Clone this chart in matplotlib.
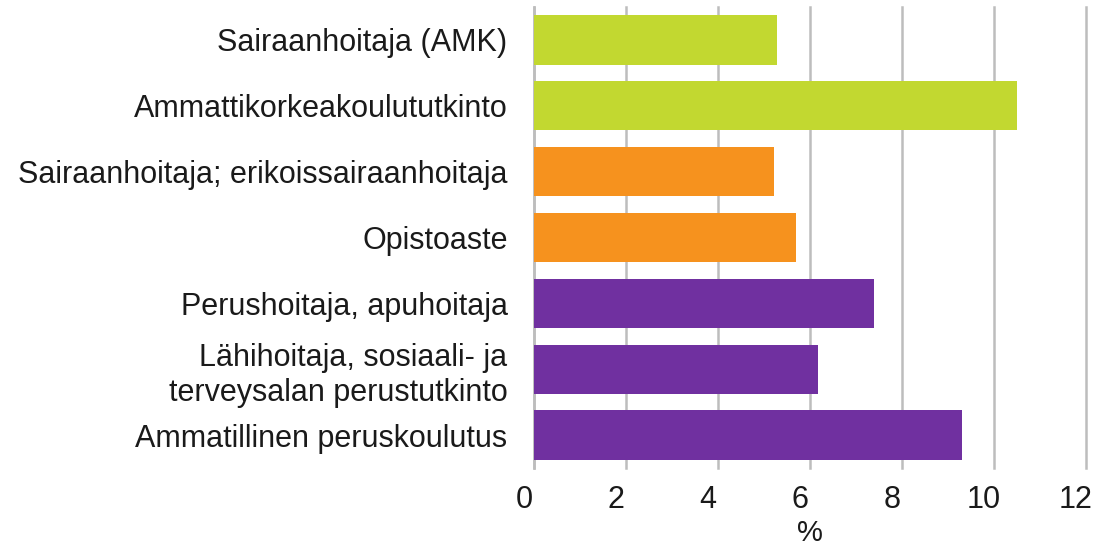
import matplotlib
matplotlib.use("Agg")
import matplotlib.pyplot as plt
from matplotlib.transforms import ScaledTranslation

categories = [
    "Sairaanhoitaja (AMK)",
    "Ammattikorkeakoulututkinto",
    "Sairaanhoitaja; erikoissairaanhoitaja",
    "Opistoaste",
    "Perushoitaja, apuhoitaja",
    "Lähihoitaja, sosiaali- ja\nterveysalan perustutkinto",
    "Ammatillinen peruskoulutus",
]
values = [5.28, 10.5, 5.21, 5.7, 7.4, 6.18, 9.3]
groups = ["amk", "amk", "opisto", "opisto", "perus", "perus", "perus"]
group_colors = {"amk": "#C2D830", "opisto": "#F6921E", "perus": "#7030A0"}
xticks = [0, 2, 4, 6, 8, 10, 12]

plt.rcParams['font.family'] = ['Liberation Sans', 'DejaVu Sans']

fig = plt.figure(figsize=(10.97, 5.55), dpi=100)
ax = fig.add_axes([534/1097, 1 - 468/555, (1086 - 534)/1097, (468 - 7)/555])

ypos = list(range(len(categories)))
ax.barh(ypos, values, height=0.75, color=[group_colors[g] for g in groups], zorder=3)
ax.set_ylim(len(categories) - 0.5, -0.5)
ax.set_xlim(0, 12)
ax.set_xticks(xticks)
ax.set_xticklabels([str(t) for t in xticks], fontsize=22, color="#1a1a1a")
ax.set_yticks(ypos)
ax.set_yticklabels(categories, fontsize=22, color="#1a1a1a", linespacing=1.25)
ax.tick_params(axis="y", length=0, pad=19)
ax.tick_params(axis="x", length=0, pad=12)
offset = ScaledTranslation(-10/100, 0, fig.dpi_scale_trans)
for lbl in ax.get_xticklabels():
    lbl.set_transform(lbl.get_transform() + offset)
ax.grid(axis="x", color="#BDBDBD", linewidth=1.8, zorder=0)
for gl in ax.get_xgridlines():
    gl.set_clip_on(False)
for s in ["top", "right", "bottom"]:
    ax.spines[s].set_visible(False)
ax.spines["left"].set_color("#BDBDBD")
ax.spines["left"].set_linewidth(1.8)
ax.set_xlabel("%", fontsize=21, color="#1a1a1a", labelpad=3)

fig.savefig("out.png", dpi=100)
